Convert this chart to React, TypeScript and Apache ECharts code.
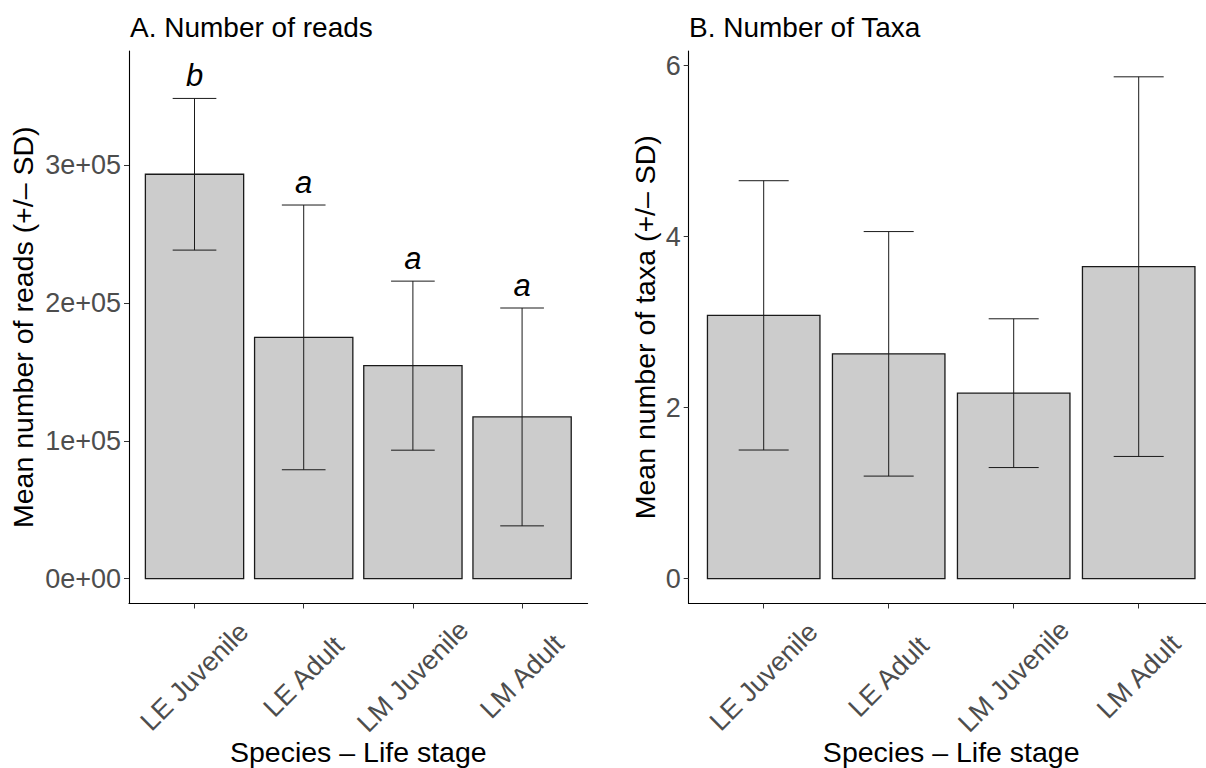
import React, { useEffect, useRef } from "react";
import * as echarts from "echarts";

const categories = ["LE Juvenile", "LE Adult", "LM Juvenile", "LM Adult"];
const readsMean = [293300, 175000, 154500, 117300];
const readsSD = [55000, 96000, 61300, 79000];
const readsLetters = ["b", "a", "a", "a"];
const readsTicks = [0, 100000, 200000, 300000];
const readsTickLabels = ["0e+00", "1e+05", "2e+05", "3e+05"];
const taxaMean = [3.08, 2.63, 2.17, 3.65];
const taxaSD = [1.575, 1.43, 0.87, 2.22];
const taxaTicks = [0, 2, 4, 6];
const taxaTickLabels = ["0", "2", "4", "6"];
const catPositions = [1, 2, 3, 4];

const FONT = "'Liberation Sans', Arial, Helvetica, sans-serif";

function xAxisFor(gridIndex: number) {
  return {
    type: "value",
    gridIndex,
    min: 0.4,
    max: 4.6,
    axisLine: { show: true, onZero: false, lineStyle: { color: "#000", width: 1.1 } },
    axisTick: { show: true, customValues: catPositions, length: 5, lineStyle: { color: "#333", width: 1 } },
    axisLabel: {
      customValues: catPositions,
      formatter: (v: number) => categories[Math.round(v) - 1],
      rotate: 45,
      align: "center",
      verticalAlign: "middle",
      margin: 73,
      fontSize: 27,
      color: "#4D4D4D",
      fontFamily: FONT,
    },
    splitLine: { show: false },
    name: "Species \u2013 Life stage",
    nameLocation: "middle",
    nameGap: 148.5,
    nameMoveOverlap: false,
    nameTextStyle: { fontSize: 28.5, lineHeight: 24, verticalAlign: "middle", color: "#000", fontFamily: FONT },
  };
}

function yAxisFor(gridIndex: number, min: number, max: number, ticks: number[], labels: string[], name: string, nameGap: number) {
  return {
    type: "value",
    gridIndex,
    min,
    max,
    axisLine: { show: true, onZero: false, lineStyle: { color: "#000", width: 1.1 } },
    axisTick: { show: true, customValues: ticks, length: 5, lineStyle: { color: "#333", width: 1 } },
    axisLabel: {
      customValues: ticks,
      formatter: (v: number) => labels[ticks.indexOf(v)] ?? "",
      margin: 8,
      fontSize: 27,
      color: "#4D4D4D",
      fontFamily: FONT,
    },
    splitLine: { show: false },
    name,
    nameLocation: "middle",
    nameGap,
    nameTextStyle: { fontSize: 28.5, color: "#000", fontFamily: FONT },
  };
}

function barSeries(idx: number, means: number[]) {
  return {
    type: "custom",
    xAxisIndex: idx,
    yAxisIndex: idx,
    data: means.map((m, i) => [catPositions[i], m]),
    renderItem: (_p: any, api: any) => {
      const x = api.value(0);
      const y = api.value(1);
      const tl = api.coord([x - 0.45, y]);
      const br = api.coord([x + 0.45, 0]);
      return {
        type: "rect",
        shape: { x: tl[0], y: tl[1], width: br[0] - tl[0], height: br[1] - tl[1] },
        style: { fill: "#CCCCCC", stroke: "#1a1a1a", lineWidth: 1.3 },
      };
    },
  };
}

function errSeries(idx: number, means: number[], sds: number[], letters: string[] | null) {
  return {
    type: "custom",
    xAxisIndex: idx,
    yAxisIndex: idx,
    data: means.map((m, i) => [catPositions[i], m - sds[i], m + sds[i]]),
    renderItem: (p: any, api: any) => {
      const x = api.value(0);
      const lo = api.value(1);
      const hi = api.value(2);
      const pLo = api.coord([x, lo]);
      const pHi = api.coord([x, hi]);
      const capL = api.coord([x - 0.2, lo]);
      const capR = api.coord([x + 0.2, lo]);
      const half = (capR[0] - capL[0]) / 2;
      const ls = { stroke: "#1a1a1a", lineWidth: 1 };
      const children: any[] = [
        { type: "line", shape: { x1: pLo[0], y1: pLo[1], x2: pHi[0], y2: pHi[1] }, style: ls },
        { type: "line", shape: { x1: pLo[0] - half, y1: pLo[1], x2: pLo[0] + half, y2: pLo[1] }, style: ls },
        { type: "line", shape: { x1: pHi[0] - half, y1: pHi[1], x2: pHi[0] + half, y2: pHi[1] }, style: ls },
      ];
      if (letters) {
        children.push({
          type: "text",
          style: {
            text: letters[p.dataIndex],
            x: pHi[0],
            y: pHi[1] - 7,
            align: "center",
            verticalAlign: "bottom",
            fontSize: 31,
            fontStyle: "italic",
            fontFamily: FONT,
            fill: "#000",
          },
        });
      }
      return { type: "group", children };
    },
  };
}

export default function App() {
  const ref = useRef<HTMLDivElement>(null);
  useEffect(() => {
    if (!ref.current) return;
    const chart = echarts.init(ref.current, null, { renderer: "svg" });
    chart.setOption({
      animation: false,
      backgroundColor: "#fff",
      textStyle: { fontFamily: FONT },
      title: [
        { text: "A. Number of reads", left: 130, top: 13.5, padding: 0, textStyle: { fontSize: 28, fontWeight: "normal", color: "#000", fontFamily: FONT } },
        { text: "B. Number of Taxa", left: 689, top: 13.5, padding: 0, textStyle: { fontSize: 28, fontWeight: "normal", color: "#000", fontFamily: FONT } },
      ],
      grid: [
        { left: 129, top: 51, width: 458.6, height: 552.5, outerBoundsMode: "none", containLabel: false },
        { left: 688.7, top: 51, width: 525, height: 552.5, outerBoundsMode: "none", containLabel: false },
      ],
      xAxis: [xAxisFor(0), xAxisFor(1)],
      yAxis: [
        yAxisFor(0, -18000, 382700, readsTicks, readsTickLabels, "Mean number of reads (+/\u2013 SD)", 92),
        yAxisFor(1, -0.29, 6.172, taxaTicks, taxaTickLabels, "Mean number of taxa (+/\u2013 SD)", 29),
      ],
      series: [
        barSeries(0, readsMean),
        errSeries(0, readsMean, readsSD, readsLetters),
        barSeries(1, taxaMean),
        errSeries(1, taxaMean, taxaSD, null),
      ],
    });
    return () => chart.dispose();
  }, []);
  return (
    <div
      ref={ref}
      style={{ position: "fixed", left: 0, top: 0, width: 1206, height: 768, background: "#fff" }}
    />
  );
}
